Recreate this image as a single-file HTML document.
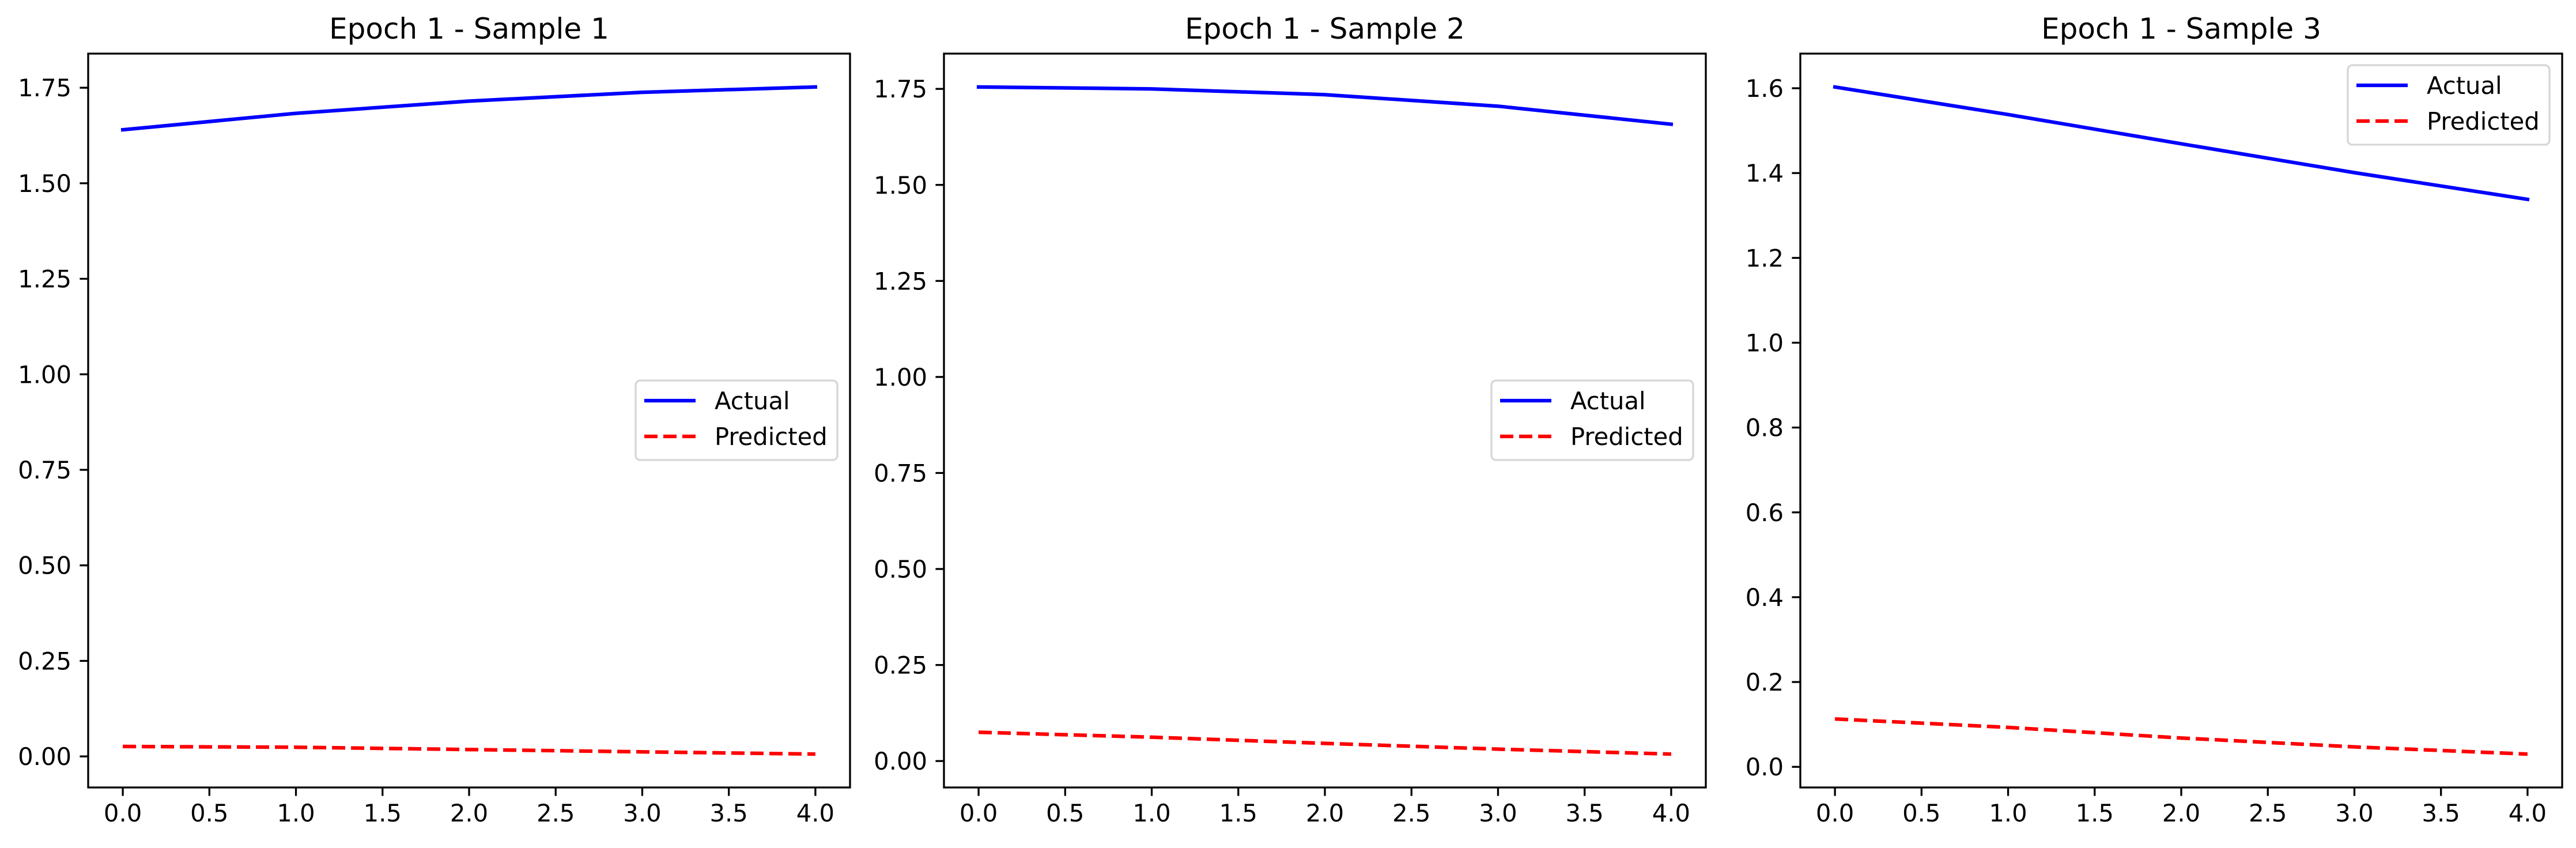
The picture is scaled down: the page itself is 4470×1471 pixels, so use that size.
<!DOCTYPE html>
<html><head><meta charset="utf-8"><style>
html,body{margin:0;padding:0;background:#fff;}
svg text{font-family:"DejaVu Sans","Liberation Sans",sans-serif;fill:#000;}
</style></head>
<body>
<svg id="fig" width="4470" height="1466" viewBox="0 0 4470 1466" xmlns="http://www.w3.org/2000/svg">
<rect width="4470" height="1466" fill="#fff"/>
</svg>
<script>
const xValues = [0, 1, 2, 3, 4];
const xTicks = [0, 0.5, 1, 1.5, 2, 2.5, 3, 3.5, 4];
const titles = ["Epoch 1 - Sample 1", "Epoch 1 - Sample 2", "Epoch 1 - Sample 3"];
const actual1 = [1.640, 1.683, 1.715, 1.738, 1.752];
const predicted1 = [0.026, 0.024, 0.018, 0.012, 0.006];
const actual2 = [1.755, 1.750, 1.735, 1.705, 1.658];
const predicted2 = [0.075, 0.062, 0.046, 0.031, 0.018];
const actual3 = [1.603, 1.538, 1.469, 1.401, 1.338];
const predicted3 = [0.113, 0.093, 0.068, 0.047, 0.030];
const yTicks12 = [0, 0.25, 0.5, 0.75, 1.0, 1.25, 1.5, 1.75];
const yTicks3 = [0, 0.2, 0.4, 0.6, 0.8, 1.0, 1.2, 1.4, 1.6];

const NS = "http://www.w3.org/2000/svg";
const svg = document.getElementById('fig');
function mk(tag, attrs, parent) {
  const e = document.createElementNS(NS, tag);
  for (const k in attrs) e.setAttribute(k, attrs[k]);
  (parent || svg).appendChild(e);
  return e;
}
const panels = [
  {x0: 153, actual: actual1, pred: predicted1, yt: yTicks12, dec: 2, legend: 'center'},
  {x0: 1638, actual: actual2, pred: predicted2, yt: yTicks12, dec: 2, legend: 'center'},
  {x0: 3124, actual: actual3, pred: predicted3, yt: yTicks3, dec: 1, legend: 'top'}
];
const W = 1322, TOP = 93, BOT = 1366;
panels.forEach((p, i) => {
  const g = mk('g', {});
  
  
  const all = p.actual.concat(p.pred);
  let lo = Math.min(...all), hi = Math.max(...all);
  const m = (hi - lo) * 0.05; lo -= m; hi += m;
  const xmin = -0.2, xmax = 4.2;
  const sx = v => p.x0 + (v - xmin) / (xmax - xmin) * W;
  const sy = v => BOT - (v - lo) / (hi - lo) * (BOT - TOP);
  const t = mk('text', {x: p.x0 + W / 2, y: 67, 'font-size': 50, 'text-anchor': 'middle'}, g);
  t.textContent = titles[i];
  
  
  // lines
  const pts = arr => arr.map((v, k) => sx(xValues[k]).toFixed(1) + ',' + sy(v).toFixed(1)).join(' ');
  const la = mk('polyline', {points: pts(p.actual), fill: 'none', stroke: '#0000ff', 'stroke-width': 6.25, 'stroke-linecap': 'square'}, g);
  
  
  const lp = mk('polyline', {points: pts(p.pred), fill: 'none', stroke: '#ff0000', 'stroke-width': 6.25, 'stroke-dasharray': '23 10'}, g);
  
  
  // frame
  const fr = mk('rect', {x: p.x0, y: TOP, width: W, height: BOT - TOP, fill: 'none', stroke: '#000', 'stroke-width': 3.3}, g);
  
  
  xTicks.forEach(v => {
    const X = sx(v);
    mk('line', {x1: X, x2: X, y1: BOT, y2: BOT + 14.6, stroke: '#000', 'stroke-width': 3.3}, g);
    const tl = mk('text', {x: X, y: 1425, 'font-size': 41.7, 'text-anchor': 'middle'}, g);
    tl.textContent = v.toFixed(1);
    
    
  });
  p.yt.forEach(v => {
    const Y = sy(v);
    mk('line', {x1: p.x0 - 14.6, x2: p.x0, y1: Y, y2: Y, stroke: '#000', 'stroke-width': 3.3}, g);
    const tl = mk('text', {x: p.x0 - 29, y: Y + 15, 'font-size': 41.7, 'text-anchor': 'end'}, g);
    tl.textContent = v.toFixed(p.dec);
    
    
  });
  // legend
  const lw = 350, lh = 138;
  const lx = p.x0 + W - 22 - lw;
  const ly = p.legend === 'center' ? 660 : 113;
  const lg = mk('g', {}, g);
  
  
  mk('rect', {x: lx, y: ly, width: lw, height: lh, rx: 8, fill: 'rgba(255,255,255,0.8)', stroke: '#d6d6d6', 'stroke-width': 3.3}, lg);
  mk('line', {x1: lx + 15, x2: lx + 104, y1: ly + 35, y2: ly + 35, stroke: '#0000ff', 'stroke-width': 6.25}, lg);
  mk('line', {x1: lx + 15, x2: lx + 104, y1: ly + 97, y2: ly + 97, stroke: '#ff0000', 'stroke-width': 6.25, 'stroke-dasharray': '23 10'}, lg);
  const a = mk('text', {x: lx + 137, y: ly + 50, 'font-size': 41.7}, lg);
  a.textContent = 'Actual';
  
  
  const b = mk('text', {x: lx + 137, y: ly + 112, 'font-size': 41.7}, lg);
  b.textContent = 'Predicted';
  
  
});
</script>
</body></html>
